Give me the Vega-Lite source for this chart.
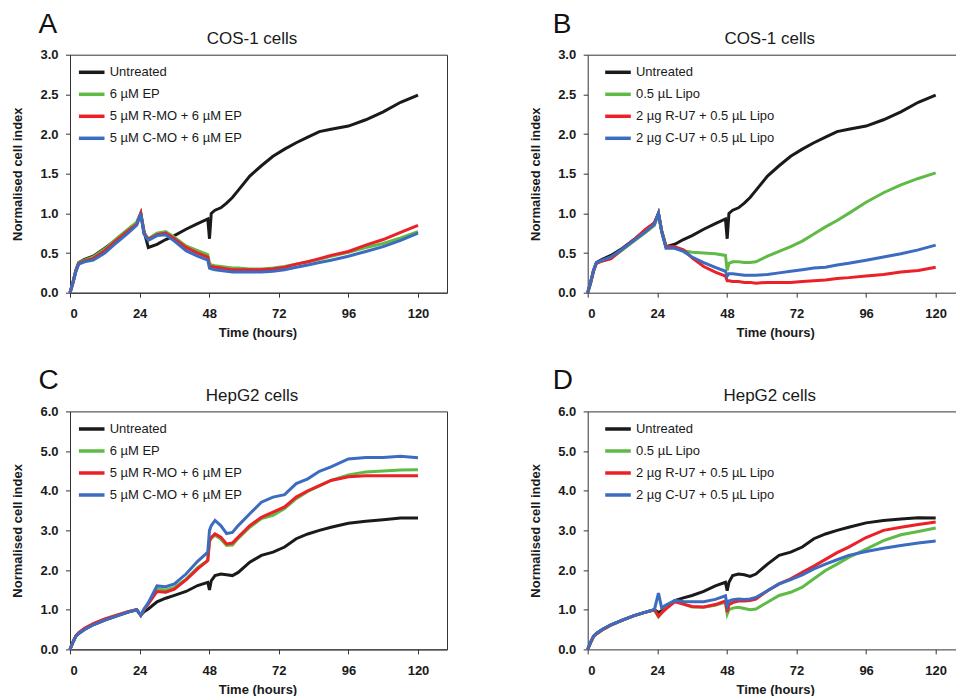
{
 "$schema": "https://vega.github.io/schema/vega-lite/v6.json",
 "autosize": {"type": "pad"},
 "padding": {"left": 11, "top": 9.7, "right": 0, "bottom": 0},
 "background": "white",
 "config": {
  "font": "Liberation Sans",
  "axis": {"grid": false, "domainColor": "#333333", "tickColor": "#333333", "labelFont": "Liberation Sans", "labelFontSize": 13, "labelFontWeight": "bold", "labelColor": "#1a1a1a", "titleFont": "Liberation Sans", "titleFontSize": 13, "titleFontWeight": "bold", "titleColor": "#1a1a1a", "tickSize": 4.5},
  "legend": {"title": null, "orient": "none", "symbolType": "stroke", "symbolSize": 655, "symbolStrokeWidth": 3.5, "labelFont": "Liberation Sans", "labelFontSize": 13, "labelColor": "#1a1a1a", "labelOffset": 3, "rowPadding": 0, "padding": 0, "labelLimit": 400},
  "title": {"font": "Liberation Sans", "fontSize": 28, "fontWeight": "normal", "color": "#111111", "anchor": "start", "frame": "group", "baseline": "alphabetic", "offset": -9}
 },
 "datasets": {
  "A": [
   {"t":0,"s1":0,"s2":0,"s3":0,"s4":0},
   {"t":1,"s1":0.13,"s2":0.13,"s3":0.12,"s4":0.12},
   {"t":2,"s1":0.28,"s2":0.28,"s3":0.27,"s4":0.26},
   {"t":3,"s1":0.38,"s2":0.38,"s3":0.37,"s4":0.36},
   {"t":5,"s1":0.42,"s2":0.41,"s3":0.40,"s4":0.39},
   {"t":8,"s1":0.46,"s2":0.45,"s3":0.43,"s4":0.41},
   {"t":12,"s1":0.56,"s2":0.55,"s3":0.53,"s4":0.50},
   {"t":16,"s1":0.67,"s2":0.68,"s3":0.66,"s4":0.63},
   {"t":20,"s1":0.79,"s2":0.80,"s3":0.78,"s4":0.75},
   {"t":23,"s1":0.88,"s2":0.89,"s3":0.86,"s4":0.85},
   {"t":24.4,"s1":1.0,"s2":1.0,"s3":1.0,"s4":1.0},
   {"t":25.5,"s1":0.78,"s2":0.76,"s3":0.75,"s4":0.74},
   {"t":27,"s1":0.57,"s2":0.68,"s3":0.67,"s4":0.66},
   {"t":30,"s1":0.61,"s2":0.75,"s3":0.73,"s4":0.72},
   {"t":33,"s1":0.67,"s2":0.77,"s3":0.75,"s4":0.73},
   {"t":36,"s1":0.72,"s2":0.70,"s3":0.68,"s4":0.65},
   {"t":40,"s1":0.80,"s2":0.59,"s3":0.57,"s4":0.53},
   {"t":44,"s1":0.87,"s2":0.53,"s3":0.50,"s4":0.46},
   {"t":47.5,"s1":0.93,"s2":0.48,"s3":0.45,"s4":0.41},
   {"t":48.1,"s1":0.68,"s2":0.37,"s3":0.34,"s4":0.31},
   {"t":48.7,"s1":1.0,"s2":0.35,"s3":0.33,"s4":0.30},
   {"t":50,"s1":1.04,"s2":0.34,"s3":0.32,"s4":0.29},
   {"t":52,"s1":1.07,"s2":0.33,"s3":0.31,"s4":0.28},
   {"t":54,"s1":1.13,"s2":0.32,"s3":0.30,"s4":0.27},
   {"t":56,"s1":1.20,"s2":0.31,"s3":0.29,"s4":0.26},
   {"t":58,"s1":1.29,"s2":0.31,"s3":0.29,"s4":0.26},
   {"t":62,"s1":1.47,"s2":0.30,"s3":0.29,"s4":0.26},
   {"t":66,"s1":1.60,"s2":0.30,"s3":0.29,"s4":0.26},
   {"t":70,"s1":1.72,"s2":0.31,"s3":0.30,"s4":0.27},
   {"t":74,"s1":1.81,"s2":0.33,"s3":0.32,"s4":0.29},
   {"t":78,"s1":1.89,"s2":0.36,"s3":0.36,"s4":0.32},
   {"t":82,"s1":1.96,"s2":0.39,"s3":0.39,"s4":0.35},
   {"t":86,"s1":2.03,"s2":0.42,"s3":0.43,"s4":0.38},
   {"t":90,"s1":2.06,"s2":0.46,"s3":0.47,"s4":0.41},
   {"t":96,"s1":2.10,"s2":0.51,"s3":0.52,"s4":0.46},
   {"t":102,"s1":2.18,"s2":0.57,"s3":0.60,"s4":0.52},
   {"t":108,"s1":2.28,"s2":0.62,"s3":0.67,"s4":0.58},
   {"t":114,"s1":2.40,"s2":0.69,"s3":0.76,"s4":0.66},
   {"t":120,"s1":2.49,"s2":0.77,"s3":0.85,"s4":0.75}
  ],
  "B": [
   {"t":0,"s1":0,"s2":0,"s3":0,"s4":0},
   {"t":1,"s1":0.13,"s2":0.12,"s3":0.12,"s4":0.13},
   {"t":2,"s1":0.28,"s2":0.27,"s3":0.27,"s4":0.28},
   {"t":3,"s1":0.38,"s2":0.37,"s3":0.37,"s4":0.38},
   {"t":5,"s1":0.42,"s2":0.40,"s3":0.40,"s4":0.41},
   {"t":8,"s1":0.47,"s2":0.43,"s3":0.43,"s4":0.45},
   {"t":12,"s1":0.56,"s2":0.54,"s3":0.55,"s4":0.55},
   {"t":16,"s1":0.67,"s2":0.65,"s3":0.67,"s4":0.66},
   {"t":20,"s1":0.79,"s2":0.76,"s3":0.80,"s4":0.77},
   {"t":23,"s1":0.88,"s2":0.85,"s3":0.88,"s4":0.86},
   {"t":24.4,"s1":1.0,"s2":1.0,"s3":1.0,"s4":1.0},
   {"t":25.5,"s1":0.78,"s2":0.78,"s3":0.78,"s4":0.77},
   {"t":27,"s1":0.58,"s2":0.58,"s3":0.58,"s4":0.56},
   {"t":30,"s1":0.61,"s2":0.57,"s3":0.58,"s4":0.56},
   {"t":33,"s1":0.67,"s2":0.53,"s3":0.54,"s4":0.52},
   {"t":36,"s1":0.72,"s2":0.51,"s3":0.44,"s4":0.45},
   {"t":40,"s1":0.80,"s2":0.50,"s3":0.33,"s4":0.38},
   {"t":44,"s1":0.87,"s2":0.49,"s3":0.26,"s4":0.32},
   {"t":47.5,"s1":0.93,"s2":0.47,"s3":0.21,"s4":0.27},
   {"t":48.1,"s1":0.68,"s2":0.28,"s3":0.15,"s4":0.21},
   {"t":48.7,"s1":1.0,"s2":0.37,"s3":0.15,"s4":0.24},
   {"t":50,"s1":1.04,"s2":0.39,"s3":0.14,"s4":0.24},
   {"t":52,"s1":1.07,"s2":0.39,"s3":0.14,"s4":0.23},
   {"t":54,"s1":1.13,"s2":0.38,"s3":0.13,"s4":0.22},
   {"t":56,"s1":1.20,"s2":0.38,"s3":0.13,"s4":0.22},
   {"t":58,"s1":1.29,"s2":0.39,"s3":0.12,"s4":0.22},
   {"t":62,"s1":1.47,"s2":0.46,"s3":0.13,"s4":0.23},
   {"t":66,"s1":1.60,"s2":0.52,"s3":0.13,"s4":0.25},
   {"t":70,"s1":1.72,"s2":0.58,"s3":0.13,"s4":0.27},
   {"t":74,"s1":1.81,"s2":0.65,"s3":0.14,"s4":0.29},
   {"t":78,"s1":1.89,"s2":0.74,"s3":0.15,"s4":0.31},
   {"t":82,"s1":1.96,"s2":0.83,"s3":0.16,"s4":0.32},
   {"t":86,"s1":2.03,"s2":0.91,"s3":0.18,"s4":0.35},
   {"t":90,"s1":2.06,"s2":1.0,"s3":0.19,"s4":0.37},
   {"t":96,"s1":2.10,"s2":1.14,"s3":0.21,"s4":0.41},
   {"t":102,"s1":2.18,"s2":1.26,"s3":0.23,"s4":0.45},
   {"t":108,"s1":2.28,"s2":1.36,"s3":0.26,"s4":0.49},
   {"t":114,"s1":2.40,"s2":1.44,"s3":0.28,"s4":0.54},
   {"t":120,"s1":2.49,"s2":1.51,"s3":0.32,"s4":0.60}
  ],
  "C": [
   {"t":0,"s1":0,"s2":0,"s3":0,"s4":0},
   {"t":1,"s1":0.18,"s2":0.18,"s3":0.19,"s4":0.18},
   {"t":2,"s1":0.33,"s2":0.33,"s3":0.34,"s4":0.33},
   {"t":3,"s1":0.40,"s2":0.41,"s3":0.42,"s4":0.40},
   {"t":5,"s1":0.50,"s2":0.51,"s3":0.53,"s4":0.50},
   {"t":8,"s1":0.62,"s2":0.63,"s3":0.65,"s4":0.62},
   {"t":12,"s1":0.74,"s2":0.75,"s3":0.77,"s4":0.74},
   {"t":16,"s1":0.84,"s2":0.85,"s3":0.86,"s4":0.84},
   {"t":20,"s1":0.94,"s2":0.95,"s3":0.95,"s4":0.94},
   {"t":23,"s1":1.0,"s2":1.0,"s3":1.0,"s4":1.0},
   {"t":24.4,"s1":0.86,"s2":0.86,"s3":0.86,"s4":0.86},
   {"t":25.5,"s1":0.95,"s2":1.0,"s3":1.0,"s4":1.02},
   {"t":27,"s1":1.02,"s2":1.15,"s3":1.15,"s4":1.18},
   {"t":30,"s1":1.20,"s2":1.52,"s3":1.46,"s4":1.60},
   {"t":33,"s1":1.29,"s2":1.50,"s3":1.44,"s4":1.58},
   {"t":36,"s1":1.36,"s2":1.56,"s3":1.52,"s4":1.65},
   {"t":40,"s1":1.46,"s2":1.77,"s3":1.75,"s4":1.90},
   {"t":44,"s1":1.61,"s2":2.06,"s3":2.03,"s4":2.22},
   {"t":47.5,"s1":1.69,"s2":2.24,"s3":2.24,"s4":2.45},
   {"t":48.1,"s1":1.50,"s2":2.72,"s3":2.74,"s4":3.0},
   {"t":48.7,"s1":1.73,"s2":2.80,"s3":2.82,"s4":3.12},
   {"t":50,"s1":1.86,"s2":2.88,"s3":2.91,"s4":3.25},
   {"t":52,"s1":1.90,"s2":2.78,"s3":2.83,"s4":3.12},
   {"t":54,"s1":1.88,"s2":2.62,"s3":2.66,"s4":2.92},
   {"t":56,"s1":1.86,"s2":2.63,"s3":2.68,"s4":2.95},
   {"t":58,"s1":1.94,"s2":2.80,"s3":2.83,"s4":3.12},
   {"t":62,"s1":2.20,"s2":3.08,"s3":3.12,"s4":3.42},
   {"t":66,"s1":2.37,"s2":3.30,"s3":3.33,"s4":3.71},
   {"t":70,"s1":2.45,"s2":3.38,"s3":3.46,"s4":3.84},
   {"t":74,"s1":2.58,"s2":3.55,"s3":3.59,"s4":3.90},
   {"t":78,"s1":2.79,"s2":3.80,"s3":3.84,"s4":4.18},
   {"t":82,"s1":2.91,"s2":3.98,"s3":4.00,"s4":4.30},
   {"t":86,"s1":3.00,"s2":4.12,"s3":4.13,"s4":4.49},
   {"t":90,"s1":3.08,"s2":4.26,"s3":4.26,"s4":4.60},
   {"t":96,"s1":3.18,"s2":4.40,"s3":4.35,"s4":4.80},
   {"t":102,"s1":3.23,"s2":4.47,"s3":4.38,"s4":4.84},
   {"t":108,"s1":3.27,"s2":4.50,"s3":4.38,"s4":4.84},
   {"t":114,"s1":3.31,"s2":4.52,"s3":4.38,"s4":4.87},
   {"t":120,"s1":3.31,"s2":4.53,"s3":4.38,"s4":4.83}
  ],
  "D": [
   {"t":0,"s1":0,"s2":0,"s3":0,"s4":0},
   {"t":1,"s1":0.18,"s2":0.17,"s3":0.17,"s4":0.18},
   {"t":2,"s1":0.33,"s2":0.32,"s3":0.32,"s4":0.33},
   {"t":3,"s1":0.40,"s2":0.39,"s3":0.39,"s4":0.40},
   {"t":5,"s1":0.50,"s2":0.49,"s3":0.49,"s4":0.50},
   {"t":8,"s1":0.62,"s2":0.61,"s3":0.61,"s4":0.62},
   {"t":12,"s1":0.74,"s2":0.74,"s3":0.74,"s4":0.74},
   {"t":16,"s1":0.85,"s2":0.85,"s3":0.85,"s4":0.85},
   {"t":20,"s1":0.94,"s2":0.94,"s3":0.94,"s4":0.94},
   {"t":23,"s1":1.0,"s2":1.0,"s3":1.0,"s4":1.0},
   {"t":24.4,"s1":0.93,"s2":0.82,"s3":0.84,"s4":1.42},
   {"t":25.5,"s1":0.97,"s2":0.92,"s3":0.92,"s4":1.05},
   {"t":27,"s1":1.05,"s2":1.05,"s3":1.02,"s4":1.12},
   {"t":30,"s1":1.23,"s2":1.23,"s3":1.20,"s4":1.23},
   {"t":33,"s1":1.30,"s2":1.14,"s3":1.14,"s4":1.21},
   {"t":36,"s1":1.36,"s2":1.07,"s3":1.08,"s4":1.20},
   {"t":40,"s1":1.46,"s2":1.06,"s3":1.07,"s4":1.20},
   {"t":44,"s1":1.60,"s2":1.11,"s3":1.13,"s4":1.26},
   {"t":47.5,"s1":1.69,"s2":1.19,"s3":1.22,"s4":1.35},
   {"t":48.1,"s1":1.48,"s2":0.89,"s3":0.94,"s4":1.10},
   {"t":48.7,"s1":1.69,"s2":1.00,"s3":1.13,"s4":1.22},
   {"t":50,"s1":1.86,"s2":1.04,"s3":1.18,"s4":1.25},
   {"t":52,"s1":1.90,"s2":1.06,"s3":1.22,"s4":1.27},
   {"t":54,"s1":1.88,"s2":1.03,"s3":1.22,"s4":1.26},
   {"t":56,"s1":1.84,"s2":1.00,"s3":1.23,"s4":1.27},
   {"t":58,"s1":1.90,"s2":1.02,"s3":1.27,"s4":1.31},
   {"t":62,"s1":2.15,"s2":1.19,"s3":1.48,"s4":1.48},
   {"t":66,"s1":2.37,"s2":1.36,"s3":1.65,"s4":1.65},
   {"t":70,"s1":2.45,"s2":1.44,"s3":1.78,"s4":1.76},
   {"t":74,"s1":2.58,"s2":1.57,"s3":1.94,"s4":1.88},
   {"t":78,"s1":2.79,"s2":1.78,"s3":2.10,"s4":2.03},
   {"t":82,"s1":2.91,"s2":1.99,"s3":2.27,"s4":2.15},
   {"t":86,"s1":3.00,"s2":2.15,"s3":2.44,"s4":2.26},
   {"t":90,"s1":3.08,"s2":2.32,"s3":2.58,"s4":2.37},
   {"t":96,"s1":3.19,"s2":2.53,"s3":2.82,"s4":2.47},
   {"t":102,"s1":3.25,"s2":2.74,"s3":3.00,"s4":2.55},
   {"t":108,"s1":3.29,"s2":2.89,"s3":3.08,"s4":2.62},
   {"t":114,"s1":3.32,"s2":2.97,"s3":3.15,"s4":2.68},
   {"t":120,"s1":3.31,"s2":3.06,"s3":3.21,"s4":2.73}
  ]
 },
 "bounds": "flush",
 "spacing": {"row": 118.7, "column": 140.7},
 "columns": 2,
 "resolve": {"scale": {"color": "independent", "x": "independent", "y": "independent"}, "legend": {"color": "independent"}, "axis": {"x": "independent", "y": "independent"}},
 "concat": [
  {
   "width": 377, "height": 238,
   "view": {"stroke": "#333333"},
   "title": {"text": "A", "dx": -31.5},
   "data": {"name": "A"},
   "transform": [{"fold": ["s1", "s2", "s3", "s4"], "as": ["s", "v"]}],
   "resolve": {"axis": {"x": "independent"}},
   "layer": [
    {
     "mark": {"type": "line", "strokeWidth": 3},
     "encoding": {
      "x": {"field": "t", "type": "quantitative", "scale": {"domain": [0, 130], "nice": false}, "axis": {"values": [0, 24, 48, 72, 96, 120], "format": "d", "title": "Time (hours)", "labelPadding": 10.5, "titleX": 187.5, "titleY": 44, "titleBaseline": "alphabetic", "titleAlign": "center"}},
      "y": {"field": "v", "type": "quantitative", "scale": {"domain": [0, 3], "nice": false}, "axis": {"values": [0, 0.5, 1, 1.5, 2, 2.5, 3], "format": ".1f", "title": "Normalised cell index", "labelPadding": 7.5, "titlePadding": 15}},
      "color": {"field": "s", "type": "nominal", "scale": {"domain": ["s1", "s2", "s3", "s4"], "range": ["#1a1a1a", "#5fba46", "#ec2027", "#3b6cc0"]}, "legend": {"legendX": 6.7, "legendY": 2.6, "labelExpr": "{'s1': 'Untreated', 's2': '6 µM EP', 's3': '5 µM R-MO + 6 µM EP', 's4': '5 µM C-MO + 6 µM EP'}[datum.label]"}}
     }
    },
    {
     "transform": [{"filter": "false"}],
     "mark": "rule",
     "encoding": {
      "x": {"field": "t", "type": "quantitative", "scale": {"domain": [0, 130], "nice": false}, "axis": {"orient": "top", "labels": false, "ticks": false, "domain": false, "title": "COS-1 cells", "titleFontSize": 17, "titleFontWeight": "normal", "titleX": 181.5, "titleY": -11, "titleBaseline": "alphabetic", "titleAlign": "center"}}
     }
    }
   ]
  },
  {
   "width": 369, "height": 238,
   "view": {"stroke": null},
   "title": {"text": "B", "dx": -35},
   "data": {"name": "B"},
   "transform": [{"fold": ["s1", "s2", "s3", "s4"], "as": ["s", "v"]}],
   "resolve": {"axis": {"x": "independent"}},
   "layer": [
    {
     "mark": {"type": "line", "strokeWidth": 3},
     "encoding": {
      "x": {"field": "t", "type": "quantitative", "scale": {"domain": [0, 127.24], "nice": false}, "axis": {"values": [0, 24, 48, 72, 96, 120], "format": "d", "title": "Time (hours)", "labelPadding": 10.5, "titleX": 187.5, "titleY": 44, "titleBaseline": "alphabetic", "titleAlign": "center"}},
      "y": {"field": "v", "type": "quantitative", "scale": {"domain": [0, 3], "nice": false}, "axis": {"values": [0, 0.5, 1, 1.5, 2, 2.5, 3], "format": ".1f", "title": "Normalised cell index", "labelPadding": 7.5, "titlePadding": 15}},
      "color": {"field": "s", "type": "nominal", "scale": {"domain": ["s1", "s2", "s3", "s4"], "range": ["#1a1a1a", "#5fba46", "#ec2027", "#3b6cc0"]}, "legend": {"legendX": 15.3, "legendY": 2.6, "labelExpr": "{'s1': 'Untreated', 's2': '0.5 µL Lipo', 's3': '2 µg R-U7 + 0.5 µL Lipo', 's4': '2 µg C-U7 + 0.5 µL Lipo'}[datum.label]"}}
     }
    },
    {
     "transform": [{"filter": "false"}],
     "mark": "rule",
     "encoding": {
      "x": {"field": "t", "type": "quantitative", "scale": {"domain": [0, 127.24], "nice": false}, "axis": {"orient": "top", "labels": false, "ticks": false, "domain": true, "title": "COS-1 cells", "titleFontSize": 17, "titleFontWeight": "normal", "titleX": 181.5, "titleY": -11, "titleBaseline": "alphabetic", "titleAlign": "center"}}
     }
    }
   ]
  },
  {
   "width": 377, "height": 238,
   "view": {"stroke": "#333333"},
   "title": {"text": "C", "dx": -31.5},
   "data": {"name": "C"},
   "transform": [{"fold": ["s1", "s2", "s3", "s4"], "as": ["s", "v"]}],
   "resolve": {"axis": {"x": "independent"}},
   "layer": [
    {
     "mark": {"type": "line", "strokeWidth": 3},
     "encoding": {
      "x": {"field": "t", "type": "quantitative", "scale": {"domain": [0, 130], "nice": false}, "axis": {"values": [0, 24, 48, 72, 96, 120], "format": "d", "title": "Time (hours)", "labelPadding": 10.5, "titleX": 187.5, "titleY": 44, "titleBaseline": "alphabetic", "titleAlign": "center"}},
      "y": {"field": "v", "type": "quantitative", "scale": {"domain": [0, 6], "nice": false}, "axis": {"values": [0, 1, 2, 3, 4, 5, 6], "format": ".1f", "title": "Normalised cell index", "labelPadding": 7.5, "titlePadding": 15}},
      "color": {"field": "s", "type": "nominal", "scale": {"domain": ["s1", "s2", "s3", "s4"], "range": ["#1a1a1a", "#5fba46", "#ec2027", "#3b6cc0"]}, "legend": {"legendX": 6.7, "legendY": 2.6, "labelExpr": "{'s1': 'Untreated', 's2': '6 µM EP', 's3': '5 µM R-MO + 6 µM EP', 's4': '5 µM C-MO + 6 µM EP'}[datum.label]"}}
     }
    },
    {
     "transform": [{"filter": "false"}],
     "mark": "rule",
     "encoding": {
      "x": {"field": "t", "type": "quantitative", "scale": {"domain": [0, 130], "nice": false}, "axis": {"orient": "top", "labels": false, "ticks": false, "domain": false, "title": "HepG2 cells", "titleFontSize": 17, "titleFontWeight": "normal", "titleX": 181.5, "titleY": -11, "titleBaseline": "alphabetic", "titleAlign": "center"}}
     }
    }
   ]
  },
  {
   "width": 369, "height": 238,
   "view": {"stroke": null},
   "title": {"text": "D", "dx": -35},
   "data": {"name": "D"},
   "transform": [{"fold": ["s1", "s2", "s3", "s4"], "as": ["s", "v"]}],
   "resolve": {"axis": {"x": "independent"}},
   "layer": [
    {
     "mark": {"type": "line", "strokeWidth": 3},
     "encoding": {
      "x": {"field": "t", "type": "quantitative", "scale": {"domain": [0, 127.24], "nice": false}, "axis": {"values": [0, 24, 48, 72, 96, 120], "format": "d", "title": "Time (hours)", "labelPadding": 10.5, "titleX": 187.5, "titleY": 44, "titleBaseline": "alphabetic", "titleAlign": "center"}},
      "y": {"field": "v", "type": "quantitative", "scale": {"domain": [0, 6], "nice": false}, "axis": {"values": [0, 1, 2, 3, 4, 5, 6], "format": ".1f", "title": "Normalised cell index", "labelPadding": 7.5, "titlePadding": 15}},
      "color": {"field": "s", "type": "nominal", "scale": {"domain": ["s1", "s2", "s3", "s4"], "range": ["#1a1a1a", "#5fba46", "#ec2027", "#3b6cc0"]}, "legend": {"legendX": 15.3, "legendY": 2.6, "labelExpr": "{'s1': 'Untreated', 's2': '0.5 µL Lipo', 's3': '2 µg R-U7 + 0.5 µL Lipo', 's4': '2 µg C-U7 + 0.5 µL Lipo'}[datum.label]"}}
     }
    },
    {
     "transform": [{"filter": "false"}],
     "mark": "rule",
     "encoding": {
      "x": {"field": "t", "type": "quantitative", "scale": {"domain": [0, 127.24], "nice": false}, "axis": {"orient": "top", "labels": false, "ticks": false, "domain": true, "title": "HepG2 cells", "titleFontSize": 17, "titleFontWeight": "normal", "titleX": 181.5, "titleY": -11, "titleBaseline": "alphabetic", "titleAlign": "center"}}
     }
    }
   ]
  }
 ]
}
